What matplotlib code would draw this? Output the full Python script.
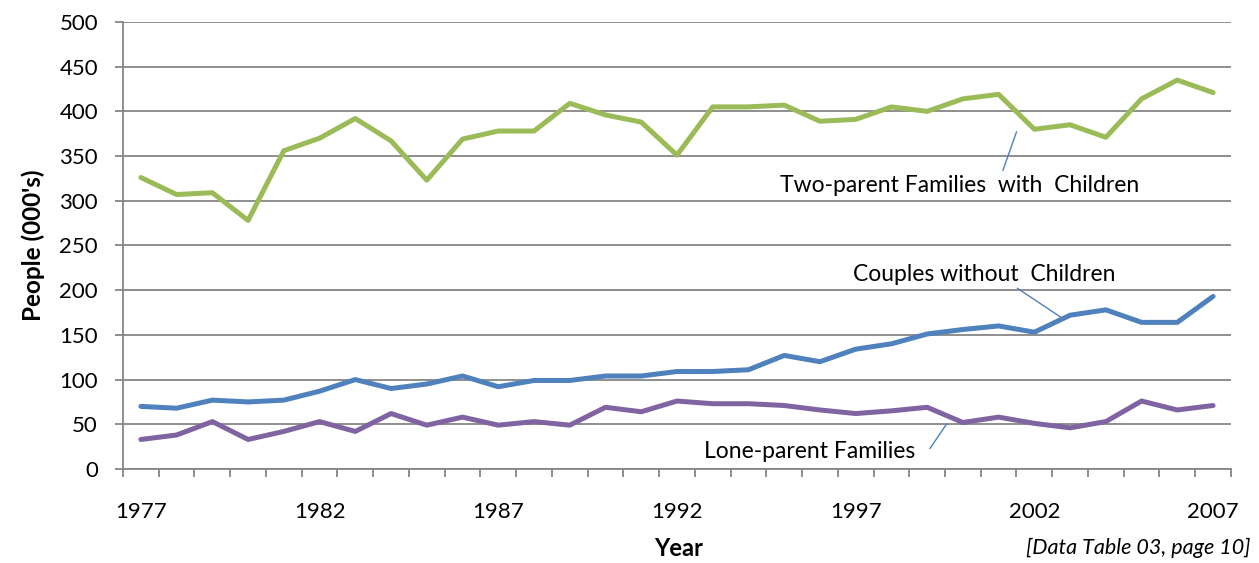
"""Family types over time, 1977-2007 (people, 000's)."""
import matplotlib
matplotlib.use("Agg")
import matplotlib.pyplot as plt
from matplotlib.ticker import MultipleLocator, FixedLocator

plt.rcParams["font.family"] = ["Lato", "DejaVu Sans"]

# ─── Data ─────────────────────────────────────────────────────────────────
years = list(range(1977, 2008))
two_parent = [326, 307, 309, 278, 356, 370, 392, 367, 323, 369, 378, 378, 409, 396, 388, 351,
              405, 405, 407, 389, 391, 405, 400, 414, 419, 380, 385, 371, 414, 435, 421]
couples_no_children = [70, 68, 77, 75, 77, 87, 100, 90, 95, 104, 92, 99, 99, 104, 104, 109,
                       109, 111, 127, 120, 134, 140, 151, 156, 160, 153, 172, 178, 164, 164, 193]
lone_parent = [33, 38, 53, 33, 42, 53, 42, 62, 49, 58, 49, 53, 49, 69, 64, 76,
               73, 73, 71, 66, 62, 65, 69, 52, 58, 51, 46, 53, 76, 66, 71]
year_labels = [1977, 1982, 1987, 1992, 1997, 2002, 2007]

GREEN = "#9BBB59"
BLUE = "#4F81BD"
PURPLE = "#8064A2"
GRID = "#868686"

fig = plt.figure(figsize=(12.59, 5.63), dpi=100)
ax = fig.add_axes([0.0977, 0.167, 0.880, 0.794])

ax.yaxis.grid(True, color=GRID, linewidth=1.3, zorder=0)
ax.set_axisbelow(True)

line_kw = dict(linewidth=3.6, solid_capstyle="round", solid_joinstyle="round", zorder=3)
ax.plot(years, two_parent, color=GREEN, **line_kw)
ax.plot(years, couples_no_children, color=BLUE, **line_kw)
ax.plot(years, lone_parent, color=PURPLE, **line_kw)

ax.set_xlim(1976.5, 2007.5)
ax.set_ylim(0, 500)
ax.yaxis.set_major_locator(MultipleLocator(50))
ax.xaxis.set_major_locator(FixedLocator(year_labels))
ax.xaxis.set_minor_locator(FixedLocator([y - 0.5 for y in years] + [2007.5]))

for side in ("top", "right"):
    ax.spines[side].set_visible(False)
for side in ("left", "bottom"):
    ax.spines[side].set_color(GRID)
    ax.spines[side].set_linewidth(1.3)

ax.tick_params(axis="y", length=6, width=1.3, color=GRID, pad=12, labelsize=16)
ax.tick_params(axis="x", which="major", length=0, pad=24, labelsize=16)
ax.tick_params(axis="x", which="minor", length=6, width=1.3, color=GRID)

ax.set_ylabel("People (000's)", fontsize=17.5, fontweight="bold", labelpad=10)
fig.text(0.539, 0.005, "Year", ha="center", va="bottom", fontsize=17, fontweight="bold")
fig.text(0.993, 0.008, "[Data Table 03, page 10]", ha="right", va="bottom",
         fontsize=15.5, style="italic")

# ─── Series labels with leader lines ──────────────────────────────────────
txt_kw = dict(ha="center", va="center", fontsize=16.5, zorder=4)
ax.text(1999.9, 317, "Two-parent Families  with  Children", **txt_kw)
ax.plot([2001.12, 2001.5], [334, 377], color=BLUE, linewidth=1, zorder=4)

ax.text(2000.6, 218, "Couples without  Children", **txt_kw)
ax.plot([2001.53, 2002.73], [202, 170], color=BLUE, linewidth=1, zorder=4)

ax.text(1995.7, 19, "Lone-parent Families", **txt_kw)
ax.plot([1999.08, 1999.54], [23, 50], color=BLUE, linewidth=1, zorder=4)

fig.savefig("out.png", dpi=100)
